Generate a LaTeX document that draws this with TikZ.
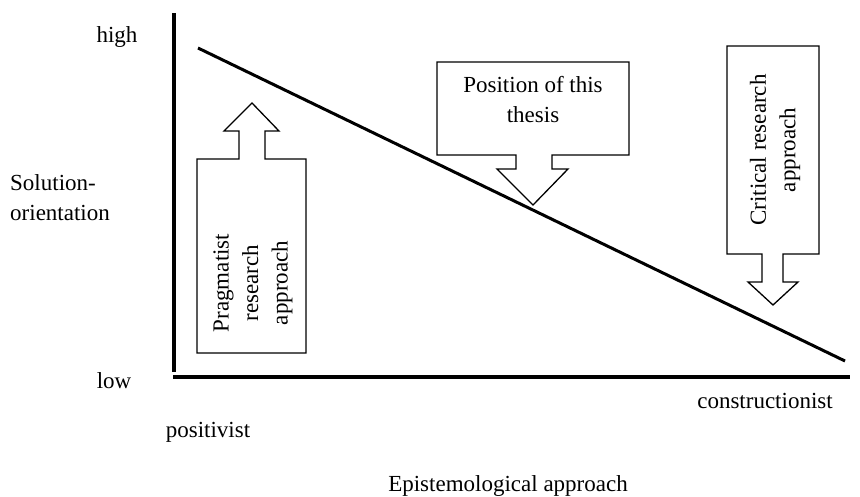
\documentclass[tikz,border=0pt]{standalone}
\usepackage{fontspec}
\setmainfont{Liberation Serif}
\begin{document}
\begin{tikzpicture}[x=1pt,y=-1pt,
  lbl/.style={font=\fontsize{23}{29.5}\selectfont, inner sep=0pt},
  axis/.style={line width=4pt},
  trend/.style={line width=3pt},
  callout/.style={draw, line width=1.3pt, fill=white, line join=miter}]
\useasboundingbox (0,0) rectangle (860,496);
% axes
\coordinate (ytop) at (174,13);
\coordinate (ybot) at (174,372);
\coordinate (xl) at (173,377);
\coordinate (xr) at (850,377);
\draw[axis] (ytop) -- (ybot);
\draw[axis] (xl) -- (xr);
% trend line
\coordinate (ts) at (198,48);
\coordinate (te) at (845,361);
\draw[trend] (ts) -- (te);
% callouts
\draw[callout] (197,353) -- (197,159) -- (239,159) -- (239,131) -- (224,131) -- (252,103)
  -- (279,131) -- (265,131) -- (265,159) -- (306,159) -- (306,353) -- cycle;
\draw[callout] (437,62) -- (629,62) -- (629,155) -- (552,155) -- (552,169) -- (568,169)
  -- (533,205) -- (497,169) -- (516,169) -- (516,155) -- (437,155) -- cycle;
\draw[callout] (727,46) -- (819,46) -- (819,254) -- (783,254) -- (783,282) -- (798,282)
  -- (773,305) -- (748,282) -- (762,282) -- (762,254) -- (727,254) -- cycle;
% callout texts
\node[lbl, rotate=90, align=center] (prag) at (253,283) {Pragmatist\\research\\approach};
\node[lbl, anchor=base] (pos1) at (533,92) {Position of this};
\node[lbl, anchor=base] (pos2) at (533,122) {thesis};
\node[lbl, rotate=90, align=center] (crit) at (775,150) {Critical research\\approach};
% axis labels
\node[lbl, anchor=base] (high) at (117,42) {high};
\node[lbl, anchor=base west] (sol1) at (10,190) {Solution-};
\node[lbl, anchor=base west] (sol2) at (10,220) {orientation};
\node[lbl, anchor=base] (low) at (114,388) {low};
\node[lbl, anchor=base] (cons) at (765,408) {constructionist};
\node[lbl, anchor=base] (posi) at (208,437) {positivist};
\node[lbl, anchor=base] (epi) at (508,491) {Epistemological approach};
\end{tikzpicture}
\end{document}
